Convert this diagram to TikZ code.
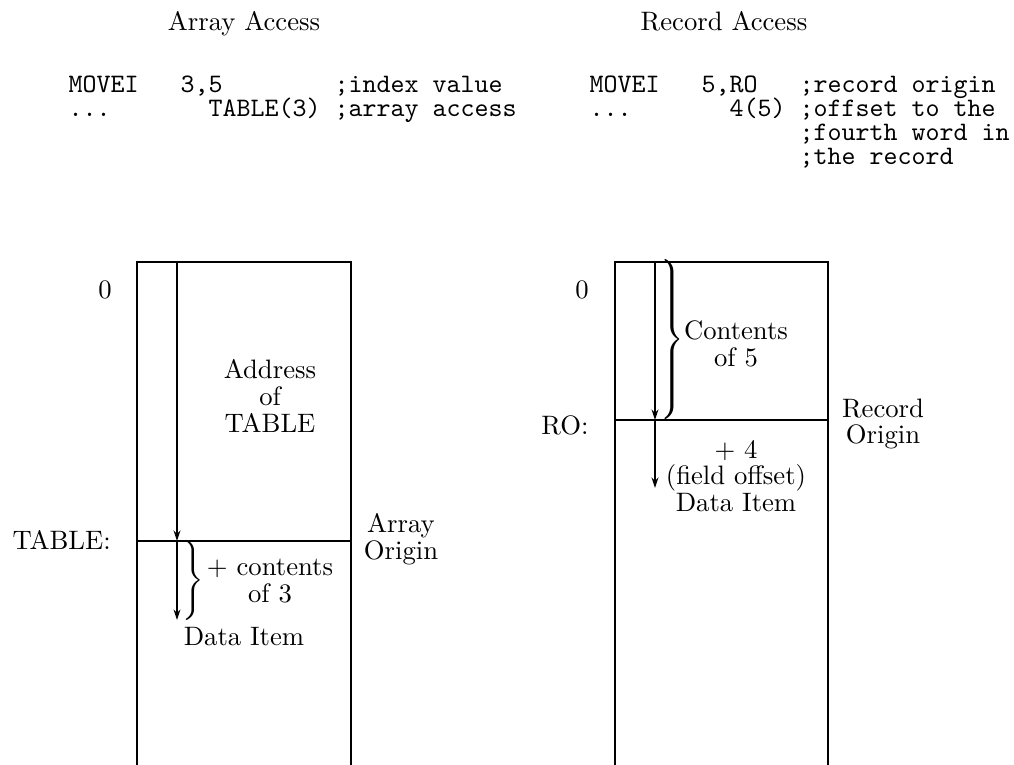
\documentclass[tikz,border=0pt]{standalone}
\usetikzlibrary{arrows.meta}
\newcommand{\tallbrace}[1]{$\delimiterfactor=1000 \delimitershortfall=0pt \nulldelimiterspace=0pt \left.\vcenter{\hrule height #1 width 0pt}\right\}$}
\newcommand{\lblfont}{\fontsize{10pt}{10pt}\selectfont\lineskiplimit=-20pt\relax}
\begin{document}
\begin{tikzpicture}[x=0.375pt,y=-0.375pt,
  lbl/.style={inner sep=0pt, align=center, font=\lblfont},
  code/.style={inner sep=0pt, anchor=base west, font=\ttfamily},
  wall/.style={line width=0.4pt},
  ptr/.style={line width=0.4pt, -{Stealth[length=4pt,width=2.6pt]}},
  brc/.style={inner sep=0pt, anchor=west},
]
\useasboundingbox (0,0) rectangle (1014,765);

% headings
\node[inner sep=0pt, anchor=base] (hA) at (244,31) {Array Access};
\node[inner sep=0pt, anchor=base] (hR) at (724,31) {Record Access};

% code, left
\node[code] (cA1) at (68,93)  {MOVEI\ \ \ 3,5\ \ \ \ \ \ \ \ ;index value};
\node[code] (cA2) at (68,117) {...\ \ \ \ \ \ \ TABLE(3)\ ;array access};
% code, right
\node[code] (cR1) at (589,93)  {MOVEI\ \ \ 5,RO\ \ \ ;record origin};
\node[code] (cR2) at (589,117) {...\ \ \ \ \ \ \ 4(5)\ ;offset to the};
\node[code] (cR3) at (589,141) {\hphantom{MOVEI\ \ \ 5,RO\ \ \ };fourth word in};
\node[code] (cR4) at (589,165) {\hphantom{MOVEI\ \ \ 5,RO\ \ \ };the record};

% left memory column
\draw[wall] (137,765) -- (137,262) -- (351,262) -- (351,765);
\coordinate (AL) at (137,541);
\coordinate (AR) at (351,541);
\draw[wall] (AL) -- (AR);
\coordinate (Atop) at (177,262);
\coordinate (Aorg) at (177,541);
\coordinate (Aitem) at (177,620);
\draw[ptr] (Atop) -- (Aorg);
\draw[ptr] (Aorg) -- (Aitem);
\node[brc] (Abrace) at (182,580) {\tallbrace{30pt}};

\node[lbl] (zA) at (105,290) {0};
\node[lbl] (addr) at (270,396) {Address\\of\\TABLE};
\node[lbl, anchor=base west] (tabL) at (12,550) {TABLE:};
\node[lbl] (aorig) at (401,539) {Array\\Origin};
\node[lbl] (c3) at (270,581) {+ contents\\of 3};
\node[lbl] (dA) at (244,637) {Data Item};

% right memory column
\draw[wall] (615,765) -- (615,262) -- (828,262) -- (828,765);
\coordinate (RL) at (615,420);
\coordinate (RR) at (828,420);
\draw[wall] (RL) -- (RR);
\coordinate (Rtop) at (655,262);
\coordinate (Rorg) at (655,420);
\coordinate (Ritem) at (655,488);
\draw[ptr] (Rtop) -- (Rorg);
\draw[ptr] (Rorg) -- (Ritem);
\node[brc] (Rbrace) at (660,340) {\tallbrace{59pt}};

\node[lbl] (zR) at (582,290) {0};
\node[lbl] (ro) at (565,425) {RO:};
\node[lbl] (c5) at (736,344) {Contents\\of 5};
\node[lbl] (rorig) at (883,424) {Record\\Origin};
\node[lbl] (fo) at (736,476) {+ 4\\(field offset)\\Data Item};
\end{tikzpicture}
\end{document}
